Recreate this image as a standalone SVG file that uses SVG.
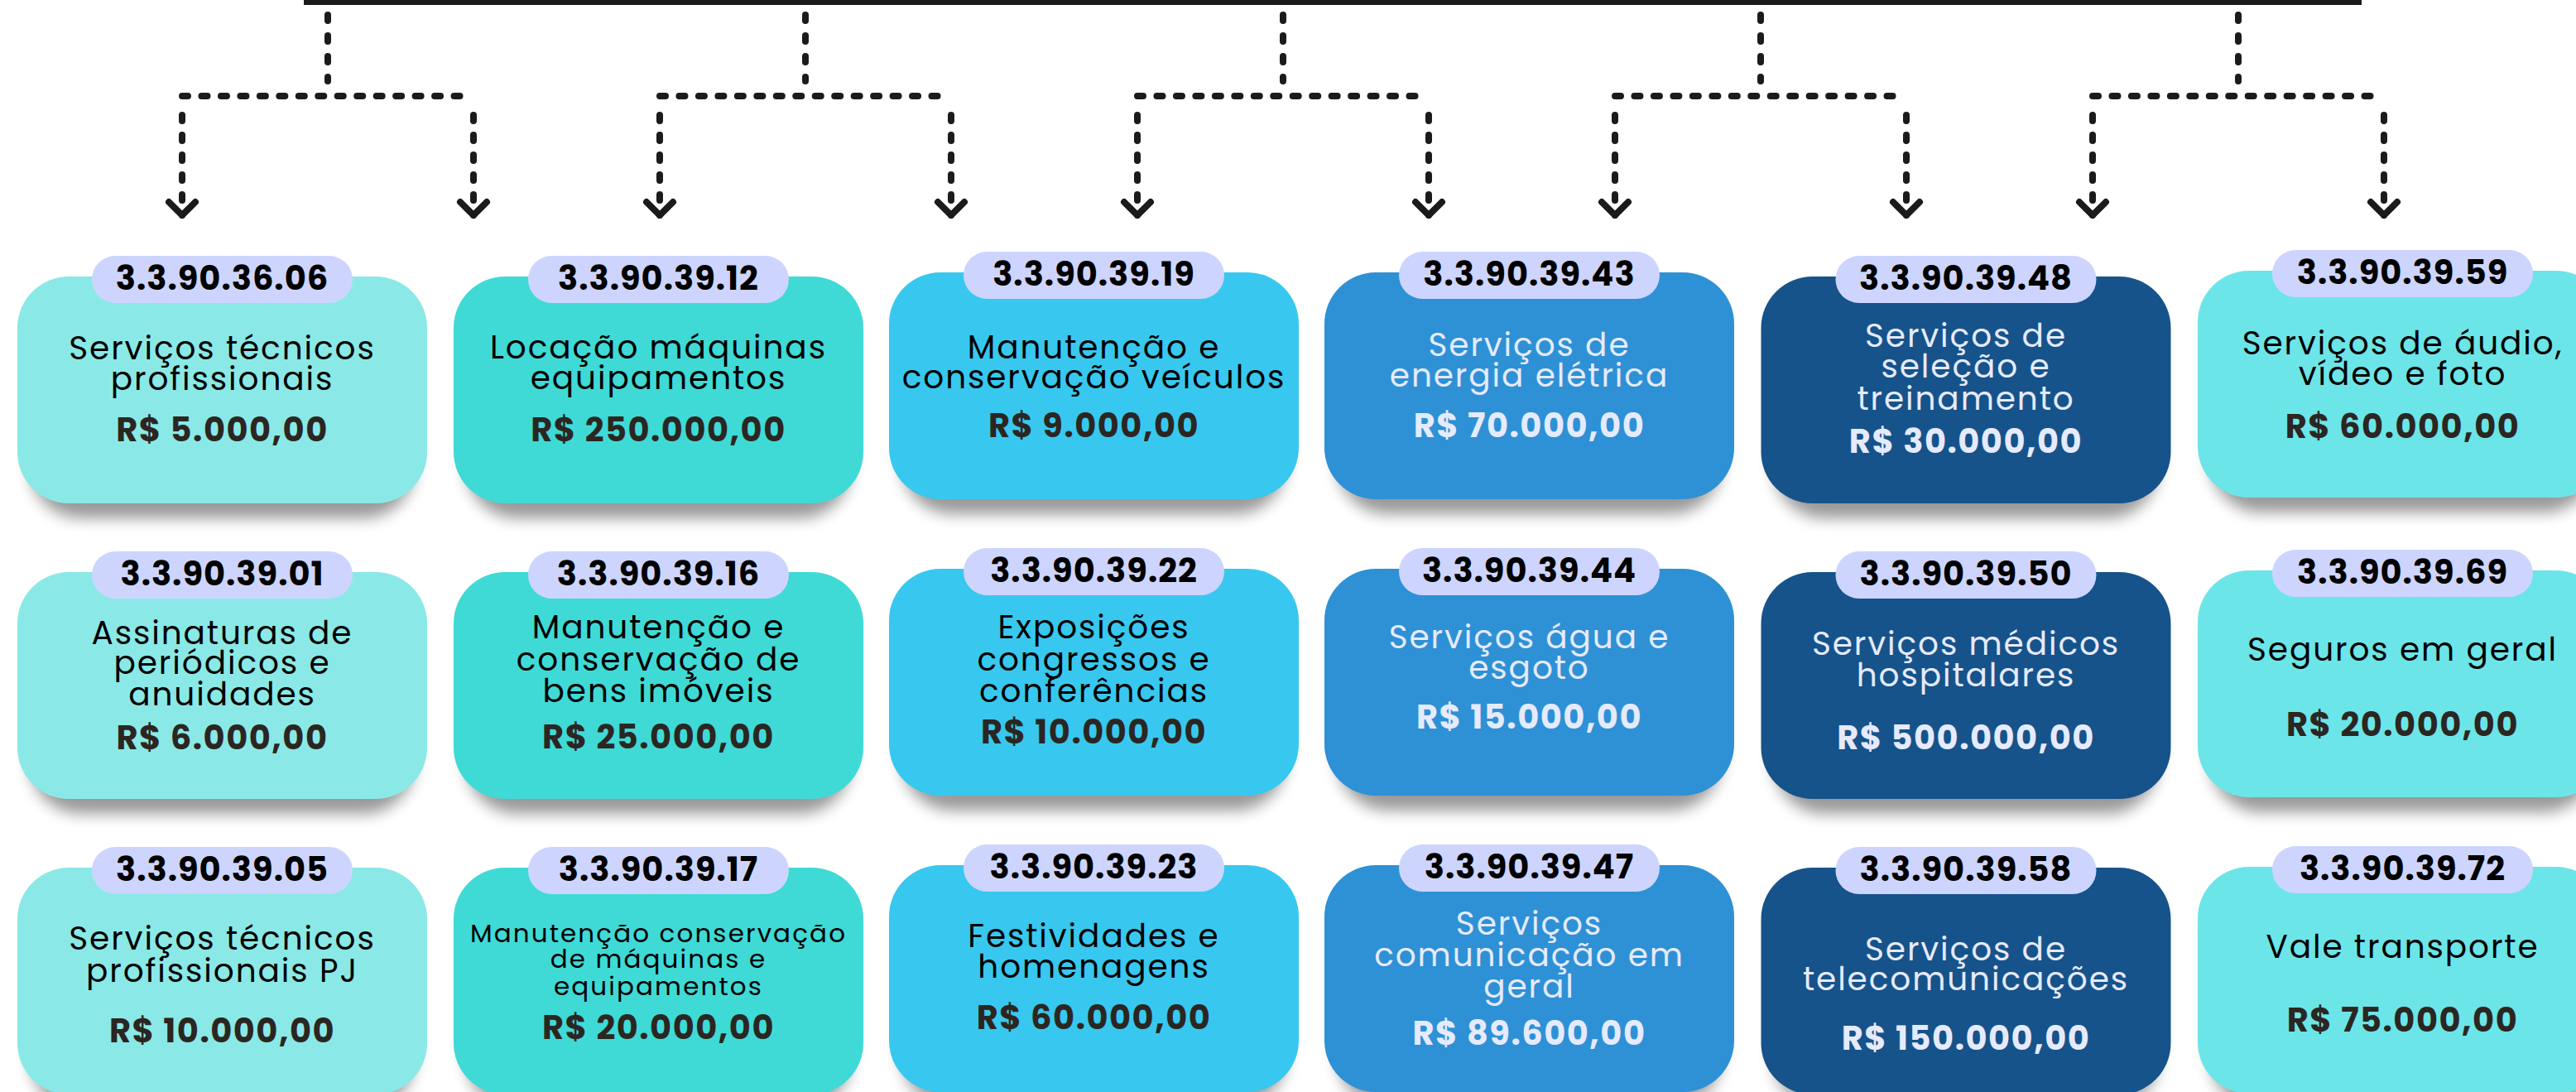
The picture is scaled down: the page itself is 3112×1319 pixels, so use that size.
<svg xmlns="http://www.w3.org/2000/svg" width="3112" height="1319" viewBox="0 0 3112 1319">
<defs>
<filter id="blur" x="-20%" y="-30%" width="140%" height="160%"><feGaussianBlur stdDeviation="9"/></filter>
<marker id="chev" viewBox="-24 -24 48 48" refX="0" refY="0" markerWidth="48" markerHeight="48" markerUnits="userSpaceOnUse" orient="auto">
<path d="M-16,-16 L0,0 L-16,16" fill="none" stroke="#1b1b1b" stroke-width="8" stroke-linecap="round" stroke-linejoin="round"/>
</marker>
</defs>
<style>
.sh{fill:#000;opacity:.4;filter:url(#blur)}
.pill{fill:#CDD5FE}
.c1{fill:#8AE9E6}.c2{fill:#3FDAD6}.c3{fill:#38C8EF}.c4{fill:#2E91D5}.c5{fill:#16538A}.c6{fill:#6CE5E8}
text{font-family:Poppins,Inter,"Open Sans",sans-serif;text-anchor:middle}
.code{font-weight:700;font-size:40px;fill:#000;letter-spacing:1px}
.desc{font-weight:400;font-size:39px;fill:#000;letter-spacing:1.9px}
.small{font-size:31px;letter-spacing:2.1px}
.price{font-weight:700;font-size:40px;fill:#2B2621;letter-spacing:1.5px}
.light .desc,.light .price{fill:#E6EAFD}
.conn{fill:none;stroke:#1b1b1b;stroke-width:8;stroke-linecap:round}
.dash{stroke-dasharray:7 18}
.dot{stroke-dasharray:7 16.4667}
.leg{stroke-dasharray:7 17}
</style>
<rect width="3112" height="1319" fill="#fff"/>

<g id="connectors">
<rect x="367" y="0" width="2486" height="6" fill="#1b1b1b"/>
<g class="conn">
<path class="dash" d="M396,18 V98"/><path class="dot" d="M220,116 H572"/>
<path class="leg" d="M220,139 V260" marker-end="url(#chev)"/><path class="leg" d="M572,139 V260" marker-end="url(#chev)"/>
<path class="dash" d="M973,18 V98"/><path class="dot" d="M797,116 H1149"/>
<path class="leg" d="M797,139 V260" marker-end="url(#chev)"/><path class="leg" d="M1149,139 V260" marker-end="url(#chev)"/>
<path class="dash" d="M1550,18 V98"/><path class="dot" d="M1374,116 H1726"/>
<path class="leg" d="M1374,139 V260" marker-end="url(#chev)"/><path class="leg" d="M1726,139 V260" marker-end="url(#chev)"/>
<path class="dash" d="M2127,18 V98"/><path class="dot" d="M1951,116 H2303"/>
<path class="leg" d="M1951,139 V260" marker-end="url(#chev)"/><path class="leg" d="M2303,139 V260" marker-end="url(#chev)"/>
<path class="dash" d="M2704,18 V98"/><path class="dot" d="M2528,116 H2880"/>
<path class="leg" d="M2528,139 V260" marker-end="url(#chev)"/><path class="leg" d="M2880,139 V260" marker-end="url(#chev)"/>
</g>
</g>

<!-- Row 1 -->
<g id="n-33903606">
<rect class="sh" x="36" y="352" width="465" height="274" rx="62"/>
<rect class="c1" x="21" y="334" width="495" height="274" rx="62"/>
<rect class="pill" x="111" y="309" width="315" height="57" rx="28.5"/>
<text class="code" x="268.5" y="349.5">3.3.90.36.06</text>
<text class="desc"><tspan x="268.5" y="434">Serviços técnicos</tspan><tspan x="268.5" y="471">profissionais</tspan></text>
<text class="price" x="268.5" y="533">R$ 5.000,00</text>
</g>
<g id="n-33903912">
<rect class="sh" x="563" y="352" width="465" height="274" rx="62"/>
<rect class="c2" x="548" y="334" width="495" height="274" rx="62"/>
<rect class="pill" x="638" y="309" width="315" height="57" rx="28.5"/>
<text class="code" x="795.5" y="349.5">3.3.90.39.12</text>
<text class="desc"><tspan x="795.5" y="433">Locação máquinas</tspan><tspan x="795.5" y="470">equipamentos</tspan></text>
<text class="price" x="795.5" y="533">R$ 250.000,00</text>
</g>
<g id="n-33903919">
<rect class="sh" x="1089" y="347" width="465" height="274" rx="62"/>
<rect class="c3" x="1074" y="329" width="495" height="274" rx="62"/>
<rect class="pill" x="1164" y="304" width="315" height="57" rx="28.5"/>
<text class="code" x="1321.5" y="344.5">3.3.90.39.19</text>
<text class="desc"><tspan x="1321.5" y="433">Manutenção e</tspan><tspan x="1321.5" y="469">conservação veículos</tspan></text>
<text class="price" x="1321.5" y="528">R$ 9.000,00</text>
</g>
<g id="n-33903943" class="light">
<rect class="sh" x="1615" y="347" width="465" height="274" rx="62"/>
<rect class="c4" x="1600" y="329" width="495" height="274" rx="62"/>
<rect class="pill" x="1690" y="304" width="315" height="57" rx="28.5"/>
<text class="code" x="1847.5" y="344.5">3.3.90.39.43</text>
<text class="desc"><tspan x="1847.5" y="430">Serviços de</tspan><tspan x="1847.5" y="467">energia elétrica</tspan></text>
<text class="price" x="1847.5" y="528">R$ 70.000,00</text>
</g>
<g id="n-33903948" class="light">
<rect class="sh" x="2142.5" y="352" width="465" height="274" rx="62"/>
<rect class="c5" x="2127.5" y="334" width="495" height="274" rx="62"/>
<rect class="pill" x="2217.5" y="309" width="315" height="57" rx="28.5"/>
<text class="code" x="2375" y="349.5">3.3.90.39.48</text>
<text class="desc"><tspan x="2375" y="419">Serviços de</tspan><tspan x="2375" y="456">seleção e</tspan><tspan x="2375" y="495">treinamento</tspan></text>
<text class="price" x="2375" y="547">R$ 30.000,00</text>
</g>
<g id="n-33903959">
<rect class="sh" x="2670" y="345" width="465" height="274" rx="62"/>
<rect class="c6" x="2655" y="327" width="495" height="274" rx="62"/>
<rect class="pill" x="2745" y="302" width="315" height="57" rx="28.5"/>
<text class="code" x="2902.5" y="342.5">3.3.90.39.59</text>
<text class="desc"><tspan x="2902.5" y="428">Serviços de áudio,</tspan><tspan x="2902.5" y="465">vídeo e foto</tspan></text>
<text class="price" x="2902.5" y="529">R$ 60.000,00</text>
</g>

<!-- Row 2 -->
<g id="n-33903901">
<rect class="sh" x="36" y="709" width="465" height="274" rx="62"/>
<rect class="c1" x="21" y="691" width="495" height="274" rx="62"/>
<rect class="pill" x="111" y="666" width="315" height="57" rx="28.5"/>
<text class="code" x="268.5" y="706.5">3.3.90.39.01</text>
<text class="desc"><tspan x="268.5" y="778">Assinaturas de</tspan><tspan x="268.5" y="814">periódicos e</tspan><tspan x="268.5" y="852">anuidades</tspan></text>
<text class="price" x="268.5" y="905">R$ 6.000,00</text>
</g>
<g id="n-33903916">
<rect class="sh" x="563" y="709" width="465" height="274" rx="62"/>
<rect class="c2" x="548" y="691" width="495" height="274" rx="62"/>
<rect class="pill" x="638" y="666" width="315" height="57" rx="28.5"/>
<text class="code" x="795.5" y="706.5">3.3.90.39.16</text>
<text class="desc"><tspan x="795.5" y="771">Manutenção e</tspan><tspan x="795.5" y="810">conservação de</tspan><tspan x="795.5" y="848">bens imóveis</tspan></text>
<text class="price" x="795.5" y="904">R$ 25.000,00</text>
</g>
<g id="n-33903922">
<rect class="sh" x="1089" y="705" width="465" height="274" rx="62"/>
<rect class="c3" x="1074" y="687" width="495" height="274" rx="62"/>
<rect class="pill" x="1164" y="662" width="315" height="57" rx="28.5"/>
<text class="code" x="1321.5" y="702.5">3.3.90.39.22</text>
<text class="desc"><tspan x="1321.5" y="771">Exposições</tspan><tspan x="1321.5" y="810">congressos e</tspan><tspan x="1321.5" y="848">conferências</tspan></text>
<text class="price" x="1321.5" y="898">R$ 10.000,00</text>
</g>
<g id="n-33903944" class="light">
<rect class="sh" x="1615" y="705" width="465" height="274" rx="62"/>
<rect class="c4" x="1600" y="687" width="495" height="274" rx="62"/>
<rect class="pill" x="1690" y="662" width="315" height="57" rx="28.5"/>
<text class="code" x="1847.5" y="702.5">3.3.90.39.44</text>
<text class="desc"><tspan x="1847.5" y="783">Serviços água e</tspan><tspan x="1847.5" y="820">esgoto</tspan></text>
<text class="price" x="1847.5" y="880">R$ 15.000,00</text>
</g>
<g id="n-33903950" class="light">
<rect class="sh" x="2142.5" y="709" width="465" height="274" rx="62"/>
<rect class="c5" x="2127.5" y="691" width="495" height="274" rx="62"/>
<rect class="pill" x="2217.5" y="666" width="315" height="57" rx="28.5"/>
<text class="code" x="2375" y="706.5">3.3.90.39.50</text>
<text class="desc"><tspan x="2375" y="791">Serviços médicos</tspan><tspan x="2375" y="829">hospitalares</tspan></text>
<text class="price" x="2375" y="905">R$ 500.000,00</text>
</g>
<g id="n-33903969">
<rect class="sh" x="2670" y="707" width="465" height="274" rx="62"/>
<rect class="c6" x="2655" y="689" width="495" height="274" rx="62"/>
<rect class="pill" x="2745" y="664" width="315" height="57" rx="28.5"/>
<text class="code" x="2902.5" y="704.5">3.3.90.39.69</text>
<text class="desc" x="2902.5" y="798">Seguros em geral</text>
<text class="price" x="2902.5" y="889">R$ 20.000,00</text>
</g>

<!-- Row 3 -->
<g id="n-33903905">
<rect class="sh" x="36" y="1066" width="465" height="274" rx="62"/>
<rect class="c1" x="21" y="1048" width="495" height="274" rx="62"/>
<rect class="pill" x="111" y="1023" width="315" height="57" rx="28.5"/>
<text class="code" x="268.5" y="1063.5">3.3.90.39.05</text>
<text class="desc"><tspan x="268.5" y="1147">Serviços técnicos</tspan><tspan x="268.5" y="1186">profissionais PJ</tspan></text>
<text class="price" x="268.5" y="1259">R$ 10.000,00</text>
</g>
<g id="n-33903917">
<rect class="sh" x="563" y="1066" width="465" height="274" rx="62"/>
<rect class="c2" x="548" y="1048" width="495" height="274" rx="62"/>
<rect class="pill" x="638" y="1023" width="315" height="57" rx="28.5"/>
<text class="code" x="795.5" y="1063.5">3.3.90.39.17</text>
<text class="desc small"><tspan x="795.5" y="1138">Manutenção conservação</tspan><tspan x="795.5" y="1169">de máquinas e</tspan><tspan x="795.5" y="1202">equipamentos</tspan></text>
<text class="price" x="795.5" y="1255">R$ 20.000,00</text>
</g>
<g id="n-33903923">
<rect class="sh" x="1089" y="1063" width="465" height="274" rx="62"/>
<rect class="c3" x="1074" y="1045" width="495" height="274" rx="62"/>
<rect class="pill" x="1164" y="1020" width="315" height="57" rx="28.5"/>
<text class="code" x="1321.5" y="1060.5">3.3.90.39.23</text>
<text class="desc"><tspan x="1321.5" y="1144">Festividades e</tspan><tspan x="1321.5" y="1181">homenagens</tspan></text>
<text class="price" x="1321.5" y="1243">R$ 60.000,00</text>
</g>
<g id="n-33903947" class="light">
<rect class="sh" x="1615" y="1063" width="465" height="274" rx="62"/>
<rect class="c4" x="1600" y="1045" width="495" height="274" rx="62"/>
<rect class="pill" x="1690" y="1020" width="315" height="57" rx="28.5"/>
<text class="code" x="1847.5" y="1060.5">3.3.90.39.47</text>
<text class="desc"><tspan x="1847.5" y="1129">Serviços</tspan><tspan x="1847.5" y="1167">comunicação em</tspan><tspan x="1847.5" y="1205">geral</tspan></text>
<text class="price" x="1847.5" y="1262">R$ 89.600,00</text>
</g>
<g id="n-33903958" class="light">
<rect class="sh" x="2142.5" y="1066" width="465" height="274" rx="62"/>
<rect class="c5" x="2127.5" y="1048" width="495" height="274" rx="62"/>
<rect class="pill" x="2217.5" y="1023" width="315" height="57" rx="28.5"/>
<text class="code" x="2375" y="1063.5">3.3.90.39.58</text>
<text class="desc"><tspan x="2375" y="1160">Serviços de</tspan><tspan x="2375" y="1196">telecomunicações</tspan></text>
<text class="price" x="2375" y="1268">R$ 150.000,00</text>
</g>
<g id="n-33903972">
<rect class="sh" x="2670" y="1065" width="465" height="274" rx="62"/>
<rect class="c6" x="2655" y="1047" width="495" height="274" rx="62"/>
<rect class="pill" x="2745" y="1022" width="315" height="57" rx="28.5"/>
<text class="code" x="2902.5" y="1062.5">3.3.90.39.72</text>
<text class="desc" x="2902.5" y="1157">Vale transporte</text>
<text class="price" x="2902.5" y="1246">R$ 75.000,00</text>
</g>
</svg>
